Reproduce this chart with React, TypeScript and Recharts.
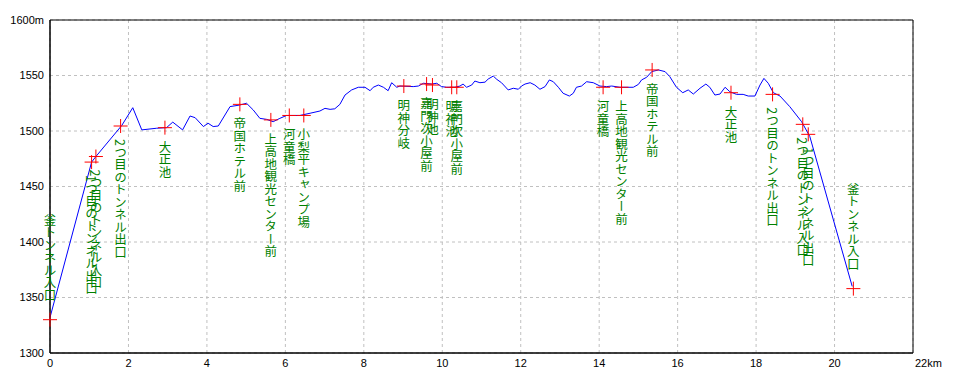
import {
  ComposedChart,
  Line,
  Scatter,
  XAxis,
  YAxis,
  CartesianGrid,
  ReferenceArea,
} from "recharts";

// elevation profile (km, m)
const profileKm = [
  0, 1.06, 1.17, 1.83, 2.11, 2.34, 2.72, 2.97, 3.13, 3.38, 3.57, 3.7, 3.91,
  4.03, 4.16, 4.29, 4.59, 4.84, 5.01, 5.18, 5.35, 5.52, 5.69, 5.86, 6.03,
  6.37, 6.63, 6.88, 7.01, 7.14, 7.26, 7.39, 7.52, 7.69, 7.86, 8.03, 8.16,
  8.24, 8.37, 8.5, 8.62, 8.71, 8.84, 8.92, 9.26, 9.39, 9.52, 9.73, 9.86,
  9.98, 10.11, 10.32, 10.45, 10.53, 10.62, 10.75, 10.83, 10.96, 11.09,
  11.17, 11.3, 11.39, 11.51, 11.68, 11.81, 11.94, 12.02, 12.11, 12.24,
  12.36, 12.49, 12.62, 12.73, 12.83, 12.96, 13.08, 13.24, 13.34, 13.42,
  13.55, 13.68, 13.85, 14.02, 14.19, 14.32, 14.53, 14.87, 15.0, 15.08,
  15.21, 15.34, 15.51, 15.68, 15.8, 15.97, 16.13, 16.27, 16.4, 16.57,
  16.72, 16.82, 16.95, 17.08, 17.21, 17.33, 17.5, 17.67, 17.8, 17.97, 18.1,
  18.2, 18.31, 18.44, 18.61, 18.86, 19.16, 19.37, 20.45,
];
const profileElev = [
  1332, 1472, 1477, 1505, 1521, 1501, 1502.5, 1503, 1508, 1501, 1513.5, 1512,
  1504, 1507, 1504, 1504.5, 1522, 1523.4, 1525, 1519, 1511.4, 1510.5, 1508.4,
  1511.4, 1514, 1514, 1516, 1518, 1520.4, 1519.5, 1520, 1524, 1532.4, 1537,
  1539.4, 1539.4, 1536.3, 1539.4, 1541.4, 1539.4, 1536.3, 1543.5, 1539.4,
  1540.5, 1540, 1540.5, 1543, 1542.3, 1543, 1540, 1539.4, 1539.4, 1540.5,
  1542.3, 1539.4, 1541.4, 1545, 1543.5, 1544, 1546.8, 1549.5, 1546.5, 1543.5,
  1537, 1538.5, 1537.6, 1540.5, 1542.3, 1543.5, 1541.4, 1537.6, 1540, 1546,
  1544.4, 1539.4, 1534, 1531.5, 1534, 1539.4, 1540.5, 1544.4, 1543.5, 1540.5,
  1540, 1540.5, 1539.4, 1539.4, 1542, 1546, 1548.4, 1553.5, 1555, 1553.5,
  1549, 1539.4, 1534.5, 1537, 1533.3, 1538.5, 1542.3, 1539.4, 1532.4, 1533.3,
  1539.4, 1535.4, 1533, 1533, 1531.5, 1531.5, 1541.4, 1547.4, 1543, 1534.5,
  1531.5, 1521.9, 1508.4, 1495, 1360,
];

// waypoints
const stopNames = [
  "釜トンネル入口",
  "1つ目のトンネル出口",
  "2つ目のトンネル入口",
  "2つ目のトンネル出口",
  "大正池",
  "帝国ホテル前",
  "上高地観光センター前",
  "河童橋",
  "小梨平キャンプ場",
  "明神分岐",
  "嘉門次小屋前",
  "明神池",
  "明神池",
  "嘉門次小屋前",
  "河童橋",
  "上高地観光センター前",
  "帝国ホテル前",
  "大正池",
  "2つ目のトンネル出口",
  "2つ目のトンネル入口",
  "1つ目のトンネル出口",
  "釜トンネル入口",
];
const stopKm = [
  0, 1.06, 1.17, 1.8, 2.93, 4.84, 5.63, 6.1, 6.47, 9.02, 9.6, 9.75, 10.24,
  10.37, 14.1, 14.57, 15.35, 17.36, 18.42, 19.19, 19.33, 20.48,
];
const stopElev = [
  1330, 1472, 1477, 1504.5, 1503, 1524, 1510, 1514, 1514, 1540.5, 1542.3,
  1541.4, 1539.4, 1539.4, 1539.4, 1539.4, 1555, 1534.5, 1533, 1506, 1497,
  1358,
];

const kmTicks = [0, 2, 4, 6, 8, 10, 12, 14, 16, 18, 20, 22];
const elevTicks = [1300, 1350, 1400, 1450, 1500, 1550, 1600];

const profile = profileKm.map((km, i) => ({ km, elev: profileElev[i] }));
const stops = stopNames.map((name, i) => ({
  name,
  km: stopKm[i],
  elev: stopElev[i],
}));

const PLOT_BOTTOM = 353;
const CHAR = 12;

function StopMark(props: any) {
  const { cx, cy, payload } = props;
  const n = Array.from(payload.name as string).length;
  let top = cy + 13;
  // labels that would run off the bottom go above the mark
  if (top + n * CHAR > PLOT_BOTTOM) top = cy - 22 - n * CHAR;
  return (
    <g>
      <line x1={cx - 7} x2={cx + 7} y1={cy} y2={cy} stroke="#ff0000" />
      <line x1={cx} x2={cx} y1={cy - 7} y2={cy + 7} stroke="#ff0000" />
      <text
        x={cx}
        y={top}
        fill="#008000"
        fontSize={12.5}
        fontFamily="'Noto Sans CJK JP'"
        style={{ writingMode: "vertical-rl" }}
      >
        {payload.name}
      </text>
    </g>
  );
}

function KmTick({ x, y, payload }: any) {
  const last = payload.value === 22;
  return (
    <text
      x={last ? x + 2 : x}
      y={y}
      dy="0.71em"
      textAnchor={last ? "start" : "middle"}
      fill="#000"
      fontSize={11}
      fontFamily="'Liberation Sans'"
    >
      {last ? "22km" : payload.value}
    </text>
  );
}

function ElevTick({ x, y, payload }: any) {
  return (
    <text
      x={x}
      y={y}
      dy="0.355em"
      textAnchor="end"
      fill="#000"
      fontSize={11}
      fontFamily="'Liberation Sans'"
    >
      {payload.value === 1600 ? "1600m" : payload.value}
    </text>
  );
}

export default function App() {
  return (
    <div
      style={{
        position: "absolute",
        left: 0,
        top: 0,
        width: 960,
        height: 384,
        background: "#fff",
      }}
    >
      <ComposedChart
        width={960}
        height={384}
        margin={{ top: 20, right: 47, bottom: 0, left: 0 }}
      >
        <CartesianGrid
          stroke="#c0c0c0"
          strokeDasharray="3 3"
          horizontalValues={elevTicks}
          verticalValues={kmTicks}
        />
        <XAxis
          type="number"
          dataKey="km"
          domain={[0, 22]}
          ticks={kmTicks}
          height={31}
          tickLine={false}
          tickSize={4}
          tickMargin={2}
          axisLine={{ stroke: "#000" }}
          tick={<KmTick />}
        />
        <YAxis
          type="number"
          dataKey="elev"
          domain={[1300, 1600]}
          ticks={elevTicks}
          width={50}
          tickLine={false}
          tickSize={4}
          tickMargin={2}
          axisLine={{ stroke: "#000" }}
          tick={<ElevTick />}
        />
        <ReferenceArea
          x1={0}
          x2={22}
          y1={1300}
          y2={1600}
          fill="none"
          stroke="#000"
          strokeOpacity={1}
        />
        <Line
          data={profile}
          dataKey="elev"
          type="linear"
          stroke="#0000ff"
          strokeWidth={1}
          dot={false}
          activeDot={false}
          isAnimationActive={false}
        />
        <Scatter
          data={stops}
          dataKey="elev"
          shape={(p: any) => <StopMark {...p} />}
          isAnimationActive={false}
        />
      </ComposedChart>
    </div>
  );
}
